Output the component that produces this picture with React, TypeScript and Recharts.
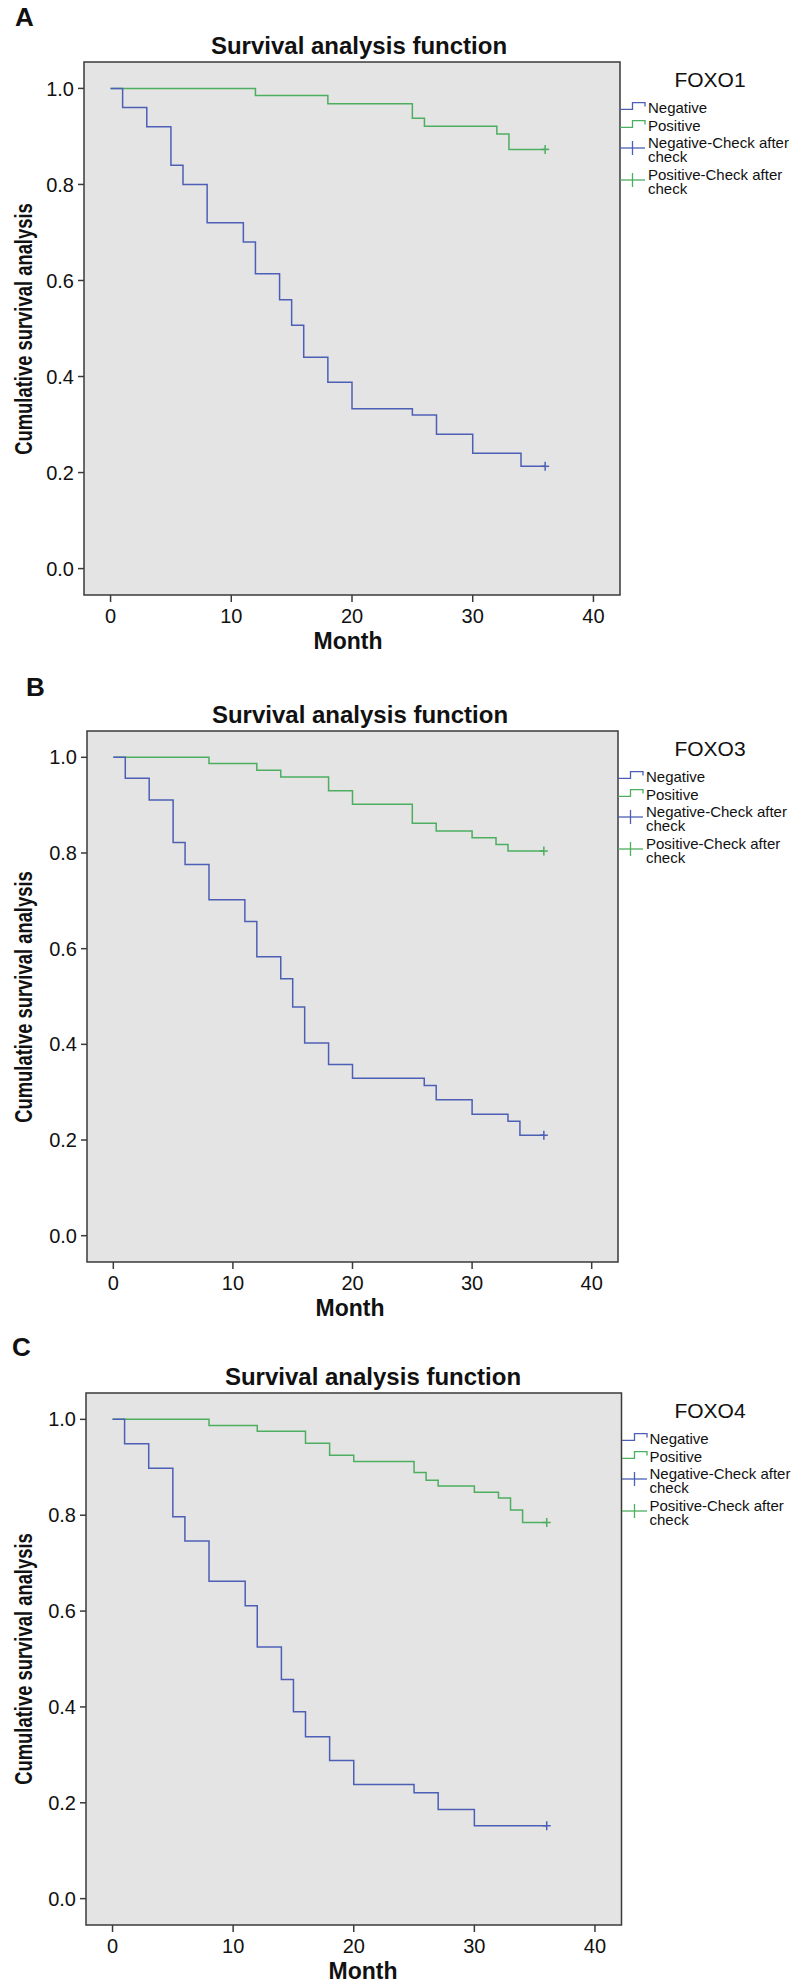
import React from 'react';
import { LineChart, Line, XAxis, YAxis, ReferenceArea } from 'recharts';

const FONT = '"Liberation Sans", Arial, Helvetica, sans-serif';
const BLUE = '#4d5fb5';
const GREEN = '#4dae60';
const FRAME = '#3a3a3a';

// month ticks / survival ticks
const monthTicks = [0, 10, 20, 30, 40];
const survTicks = [0, 0.2, 0.4, 0.6, 0.8, 1.0];

const legendLabels = ['Negative', 'Positive', 'Negative-Check after check', 'Positive-Check after check'];

// FOXO1
const foxo1NegTime = [0, 1, 3, 5, 6, 8, 11, 12, 14, 15, 16, 18, 20, 25, 27, 30, 34, 36];
const foxo1NegSurv = [1, 0.96, 0.92, 0.84, 0.8, 0.72, 0.68, 0.614, 0.56, 0.507, 0.44, 0.388, 0.333, 0.32, 0.28, 0.24, 0.213, 0.213];
const foxo1PosTime = [0, 12, 18, 25, 26, 32, 33, 36];
const foxo1PosSurv = [1, 0.985, 0.968, 0.938, 0.921, 0.905, 0.873, 0.873];

// FOXO3
const foxo3NegTime = [0, 1, 3, 5, 6, 8, 11, 12, 14, 15, 16, 18, 20, 26, 27, 30, 33, 34, 36];
const foxo3NegSurv = [1, 0.956, 0.911, 0.822, 0.776, 0.702, 0.657, 0.583, 0.537, 0.478, 0.403, 0.358, 0.329, 0.314, 0.284, 0.254, 0.239, 0.21, 0.21];
const foxo3PosTime = [0, 8, 12, 14, 18, 20, 25, 27, 30, 32, 33, 36];
const foxo3PosSurv = [1, 0.987, 0.973, 0.959, 0.93, 0.902, 0.862, 0.846, 0.832, 0.818, 0.804, 0.804];

// FOXO4
const foxo4NegTime = [0, 1, 3, 5, 6, 8, 11, 12, 14, 15, 16, 18, 20, 25, 27, 30, 36];
const foxo4NegSurv = [1, 0.949, 0.898, 0.797, 0.746, 0.662, 0.611, 0.525, 0.457, 0.39, 0.338, 0.288, 0.238, 0.221, 0.186, 0.152, 0.152];
const foxo4PosTime = [0, 8, 12, 16, 18, 20, 25, 26, 27, 30, 32, 33, 34, 36];
const foxo4PosSurv = [1, 0.987, 0.975, 0.95, 0.925, 0.912, 0.889, 0.873, 0.861, 0.848, 0.836, 0.811, 0.785, 0.785];

const toSeries = (times: number[], surv: number[]) =>
  times.map((t, i) => ({ t, s: surv[i], censored: i === times.length - 1 }));

const panels = [
  { letter: 'A', gene: 'FOXO1', negT: foxo1NegTime, negS: foxo1NegSurv, posT: foxo1PosTime, posS: foxo1PosSurv,
    box: { left: 84, top: 62, right: 620, bottom: 595 }, letterX: 15, letterTop: 7, titleX: 359, monthX: 348 },
  { letter: 'B', gene: 'FOXO3', negT: foxo3NegTime, negS: foxo3NegSurv, posT: foxo3PosTime, posS: foxo3PosSurv,
    box: { left: 87, top: 731, right: 618, bottom: 1262 }, letterX: 26, letterTop: 677, titleX: 360, monthX: 350 },
  { letter: 'C', gene: 'FOXO4', negT: foxo4NegTime, negS: foxo4NegSurv, posT: foxo4PosTime, posS: foxo4PosSurv,
    box: { left: 86, top: 1393, right: 621.5, bottom: 1925 }, letterX: 12, letterTop: 1337, titleX: 373, monthX: 363 },
];

const CensorDot = (props: any) => {
  const { cx, cy, payload, stroke, index } = props;
  if (!payload || !payload.censored) return <g key={`n-${index}`} />;
  return (
    <g key={`c-${index}`}>
      <line x1={cx - 4} x2={cx + 4} y1={cy} y2={cy} stroke={stroke} strokeWidth={1.5} />
      <line x1={cx} x2={cx} y1={cy - 4.5} y2={cy + 4.5} stroke={stroke} strokeWidth={1.5} />
    </g>
  );
};

// step symbols sit on one text line, censor crosses on two
const LegendSymbol = ({ kind, color }: { kind: string; color: string }) =>
  kind === 'step' ? (
    <svg width={28} height={14} style={{ flex: 'none', display: 'block' }}>
      <polyline points="0,8.3 12.5,8.3 12.5,1.7 25,1.7 25,5.5" fill="none" stroke={color} strokeWidth={1.3} />
    </svg>
  ) : (
    <svg width={28} height={28} style={{ flex: 'none', display: 'block' }}>
      <g stroke={color} strokeWidth={1.3}>
        <line x1={0} x2={25} y1={12} y2={12} />
        <line x1={12.5} x2={12.5} y1={5} y2={19} />
      </g>
    </svg>
  );

const CHART_H = 650;

const Panel = ({ p }: { p: any }) => {
  const { box } = p;
  const top = box.top - 62;
  const neg = toSeries(p.negT, p.negS);
  const pos = toSeries(p.posT, p.posS);
  const legendItems = [
    { label: legendLabels[0], kind: 'step', color: BLUE },
    { label: legendLabels[1], kind: 'step', color: GREEN },
    { label: legendLabels[2], kind: 'cross', color: BLUE },
    { label: legendLabels[3], kind: 'cross', color: GREEN },
  ];
  const plotMidY = (box.top + box.bottom) / 2;
  return (
    <>
      <div style={{ position: 'absolute', left: 0, top }}>
        <LineChart
          width={798}
          height={CHART_H}
          margin={{ top: 62, left: box.left - 60, right: 798 - box.right, bottom: CHART_H - (box.bottom - top) - 40 }}
        >
          <XAxis
            type="number"
            dataKey="t"
            domain={[-2.2, 42.2]}
            ticks={monthTicks}
            allowDataOverflow
            height={40}
            axisLine={false}
            tickSize={7}
            tickMargin={7}
            tickLine={{ stroke: FRAME, strokeWidth: 1.5 }}
            tick={{ fill: '#111', fontSize: 20, fontFamily: FONT }}
          />
          <YAxis
            type="number"
            dataKey="s"
            domain={[-0.055, 1.055]}
            ticks={survTicks}
            allowDataOverflow
            width={60}
            axisLine={false}
            tickSize={6}
            tickMargin={4}
            tickFormatter={(v: number) => v.toFixed(1)}
            tickLine={{ stroke: FRAME, strokeWidth: 1.5 }}
            tick={{ fill: '#111', fontSize: 20, fontFamily: FONT }}
          />
          <ReferenceArea
            x1={-2.2}
            x2={42.2}
            y1={-0.055}
            y2={1.055}
            fill="#e4e4e4"
            fillOpacity={1}
            stroke={FRAME}
            strokeWidth={1.5}
            ifOverflow="visible"
          />
          <Line data={pos} dataKey="s" type="stepAfter" stroke={GREEN} strokeWidth={1.5} dot={CensorDot} activeDot={false} isAnimationActive={false} />
          <Line data={neg} dataKey="s" type="stepAfter" stroke={BLUE} strokeWidth={1.5} dot={CensorDot} activeDot={false} isAnimationActive={false} />
        </LineChart>
      </div>

      <div style={{ position: 'absolute', left: p.letterX, top: p.letterTop - 3.4, fontFamily: FONT, fontWeight: 'bold', fontSize: 26, lineHeight: '26px', color: '#111' }}>
        {p.letter}
      </div>
      <div style={{ position: 'absolute', left: p.titleX - 250, width: 500, top: box.top - 28, textAlign: 'center', fontFamily: FONT, fontWeight: 'bold', fontSize: 24, lineHeight: '24px', color: '#111' }}>
        Survival analysis function
      </div>
      <div style={{ position: 'absolute', left: p.monthX - 100, width: 200, top: box.bottom + 35, textAlign: 'center', fontFamily: FONT, fontWeight: 'bold', fontSize: 23, lineHeight: '23px', color: '#111' }}>
        Month
      </div>
      <div style={{ position: 'absolute', left: 24 - 200, width: 400, top: plotMidY - 14, height: 28, lineHeight: '28px', textAlign: 'center', transform: 'rotate(-90deg) scaleX(0.8)', fontFamily: FONT, fontWeight: 'bold', fontSize: 23, color: '#111', whiteSpace: 'nowrap' }}>
        Cumulative survival analysis
      </div>

      <div style={{ position: 'absolute', left: 710 - 60, width: 120, top: box.top + 7.3, textAlign: 'center', fontFamily: FONT, fontSize: 21, lineHeight: '21px', color: '#111' }}>
        {p.gene}
      </div>
      <div style={{ position: 'absolute', left: box.right, top: box.top + 39, fontFamily: FONT, fontSize: 15, lineHeight: '14px', color: '#111' }}>
        {legendItems.map((it) => (
          <div key={it.label} style={{ display: 'flex', alignItems: 'flex-start', marginBottom: 3.5 }}>
            <LegendSymbol kind={it.kind} color={it.color} />
            <div style={{ width: 150 }}>{it.label}</div>
          </div>
        ))}
      </div>
    </>
  );
};

export default function App() {
  return (
    <div style={{ position: 'absolute', left: 0, top: 0, width: 798, height: 1985, background: '#fff' }}>
      {panels.map((p) => (
        <Panel key={p.letter} p={p} />
      ))}
    </div>
  );
}
